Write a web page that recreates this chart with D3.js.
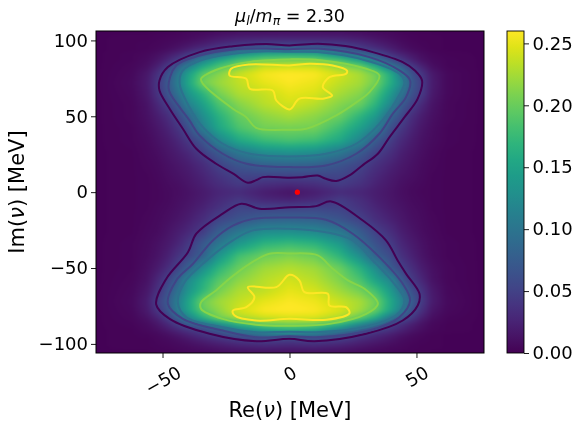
<!DOCTYPE html>
<html>
<head>
<meta charset="utf-8">
<script src="https://cdn.jsdelivr.net/npm/d3@7"></script>
<style>
  body { margin: 0; background: #fff; }
  #wrap { position: relative; width: 576px; height: 422px; overflow: hidden; }
  #wrap canvas, #wrap svg { position: absolute; left: 0; top: 0; }
  text { font-family: "DejaVu Sans", sans-serif; fill: #000; }
</style>
</head>
<body>
<div id="wrap"></div>
<script>
// grid positions of the density, MeV
const reGrid = [-75,-62,-56,-52,-48,-44,-40,-34,-28,-20,-10,0,10,20,28,34,40,44,48,52,56,62,75];
const imGrid = [106,101,97,94,91,87,83,78,72,65,58,50,42,34,26,18,10,5,0,-5,-10,-18,-26,-34,-42,-50,-58,-65,-72,-78,-83,-87,-91,-94,-97,-101,-106];

// density in units of 0.001, one row per imGrid entry
const density = [
  [2,2,2,3,3,4,5,6,7,8,8,8,8,8,7,6,5,4,3,3,2,2,2],
  [2,3,3,4,5,6,8,12,18,24,26,27,27,25,20,14,9,6,4,3,3,2,2],
  [2,3,4,5,7,10,14,22,32,42,52,52,52,48,36,25,15,10,6,4,3,2,2],
  [2,3,4,6,9,14,22,36,50,76,96,96,96,76,50,36,22,13,8,5,3,2,2],
  [2,4,6,10,17,26,42,66,92,131,155,160,155,116,90,66,36,24,15,9,5,3,2],
  [2,4,8,14,26,46,68,116,152,185,202,205,204,185,145,96,64,42,24,12,7,4,2],
  [2,5,10,22,44,76,110,155,185,208,238,240,240,215,200,160,102,76,46,24,10,4,2],
  [2,6,16,36,64,102,145,193,212,238,256,262,258,242,225,205,160,105,66,42,18,6,2],
  [2,7,18,42,71,110,152,205,220,235,250,258,252,235,224,204,160,126,73,48,20,6,2],
  [2,6,16,38,66,96,134,168,205,228,237,250,245,225,212,185,140,102,66,46,18,6,2],
  [2,5,13,28,48,76,113,148,185,212,232,243,232,212,200,168,120,76,52,30,14,5,2],
  [2,5,11,20,32,52,82,128,164,198,215,225,215,200,168,140,83,58,34,20,11,5,2],
  [2,4,9,15,24,38,60,110,152,185,204,205,204,176,145,112,60,42,26,15,9,4,2],
  [2,4,7,12,18,27,42,68,116,155,176,184,178,155,116,73,46,30,20,12,8,4,2],
  [2,3,6,9,14,20,28,47,71,102,126,131,126,102,73,50,34,22,15,10,6,3,2],
  [2,3,5,7,11,15,20,32,50,68,79,82,79,66,52,36,24,17,12,8,5,3,2],
  [2,3,4,6,9,12,16,25,38,50,50,49,50,52,42,28,18,13,10,7,4,3,2],
  [2,3,4,5,8,10,14,22,32,44,34,30,34,46,36,24,16,11,8,6,4,3,2],
  [2,3,4,5,7,9,12,18,26,30,20,13,20,30,26,20,14,10,7,5,4,3,2],
  [2,3,4,5,7,10,13,20,30,42,28,24,30,46,33,22,15,11,8,6,4,3,2],
  [2,3,4,6,8,11,15,24,36,52,50,50,52,50,38,26,17,13,9,7,4,3,2],
  [2,3,5,7,10,14,20,33,52,66,79,82,79,66,50,34,23,16,11,8,5,3,2],
  [2,3,6,8,13,20,28,46,76,102,126,128,121,102,73,50,33,21,14,9,6,3,2],
  [2,4,7,11,17,26,42,71,100,138,168,176,168,140,90,64,45,28,19,12,7,4,2],
  [2,4,8,13,22,38,52,79,134,181,202,210,202,168,126,79,58,36,24,14,8,4,2],
  [2,4,10,18,32,52,79,128,168,200,222,230,222,200,164,126,71,52,34,20,11,5,2],
  [2,5,12,28,52,79,122,160,191,215,232,242,232,210,185,150,120,73,46,28,13,5,2],
  [2,6,16,36,64,96,134,170,205,228,235,250,243,222,205,181,140,102,64,40,18,6,2],
  [2,7,20,48,73,112,150,204,222,236,250,258,253,238,225,204,155,122,76,46,20,7,2],
  [2,6,18,40,66,110,148,196,215,243,258,262,258,245,222,198,150,110,64,36,15,6,2],
  [2,5,12,24,46,79,113,164,202,225,240,244,245,225,193,155,96,68,44,22,10,4,2],
  [2,4,8,15,28,48,71,92,126,168,198,205,200,168,124,90,50,35,22,12,6,3,2],
  [2,3,6,10,17,27,38,52,73,111,145,160,150,111,71,52,36,24,15,9,5,3,2],
  [2,3,4,6,10,16,24,38,50,71,95,102,95,66,44,30,20,13,8,5,3,2,2],
  [2,3,3,5,7,10,15,24,34,46,54,48,54,46,30,22,14,9,6,4,3,2,2],
  [2,3,3,4,5,7,9,13,18,25,30,28,30,24,17,12,8,6,4,3,3,2,2],
  [2,2,2,3,3,4,5,6,7,8,9,8,9,8,6,5,4,4,3,3,2,2,2]
];

// contour outlines, [Re, Im] in MeV
const outerTop = [[0,96.7],[11.2,97.8],[22,96.3],[32.8,92.3],[44.6,85.7],[49.5,80],[52.2,73.6],[50.5,61.6],[45.3,49.4],[39.4,36.3],[34.8,25.3],[29,18],[23.6,11],[18.4,7.3],[14,9],[11.1,11],[5,9.8],[0,9.5],[-10.5,9.9],[-13,8],[-16.4,6.2],[-22,12],[-28.9,18.7],[-36.7,28.6],[-42,41.8],[-47.2,55],[-51.2,67],[-51.2,73.6],[-47.9,82.4],[-35.4,92.3],[-22.3,96.2],[-9.2,97.6]];
const secondTop = [[0,94.2],[11.2,94.6],[31.5,89],[43.3,80.2],[47.5,73.6],[45.9,62.6],[40.7,51.7],[35.4,38.5],[26.3,25.3],[14.4,17.6],[0,16.5],[-17,18.7],[-26.3,25.3],[-35.4,37.4],[-39.4,47.3],[-43.3,56],[-47.6,68.2],[-44.6,83.5],[-35.4,90],[-22.3,94],[-9.2,94.6]];
const thirdTop = [[0,92.5],[11.2,92.3],[30.2,86.8],[43.3,78],[45.3,72.5],[42,60.4],[35.4,45],[26.3,31.9],[14.4,25.3],[0,23.5],[-15.7,25.3],[-26.3,31.9],[-34.1,42.8],[-39.4,56],[-43.3,71.5],[-42,80.2],[-34.1,87.3],[-22.3,91.2],[-9.2,92.9]];
const greenTop = [[0,87.5],[12,87],[30.2,81.3],[35.4,76.9],[31.5,65.9],[27,60],[18.4,50.6],[6.6,41.8],[0,41.2],[-13.1,42.4],[-17,49.4],[-22.3,55],[-34.1,71.5],[-34.8,74.7],[-27.6,81.3],[-15,86]];
const yellowTop = [[0,83.5],[7.9,84.6],[17,83.5],[22.6,80.2],[22.3,78],[15.7,75.8],[13.1,69.2],[16.8,63.7],[13.1,61.6],[3.9,61.6],[1,55.6],[0,54.5],[-5.2,60.4],[-6.6,67],[-15.7,68.2],[-17,74.7],[-23.6,76.9],[-23,81.3],[-15.7,84.2]];
const outerBottom = [[0,-96.6],[9.8,-98.2],[30.2,-93.3],[44.6,-84.6],[50.5,-74.7],[51.2,-67],[46,-54],[42.6,-45],[38,-31.8],[28.9,-18.7],[16.4,-6.1],[10.5,-9.2],[0,-9.9],[-11.8,-10.9],[-19,-7.6],[-26.3,-14.2],[-36.7,-27.4],[-40,-39.6],[-48.5,-57],[-52.5,-74],[-47.2,-83.5],[-31.5,-93.3],[-13.1,-98.2]];
const secondBottom = [[0,-95],[10.5,-95.6],[31.5,-91.2],[43.3,-82.4],[47.5,-71.4],[44.6,-60.4],[35.4,-42.8],[24.9,-27.4],[14.4,-18.2],[0,-16.7],[-14.4,-17.6],[-22.3,-22],[-30.2,-31.8],[-38,-47.2],[-44.6,-58.2],[-47.9,-73.6],[-42,-83.5],[-26.3,-91.2],[-13.1,-95.6]];
const thirdBottom = [[0,-92],[10.5,-92.3],[30.2,-89],[42,-81.3],[45.3,-71.4],[40.7,-59.3],[32.8,-45],[24.9,-31.8],[14.4,-26.4],[0,-24.1],[-14.4,-25.2],[-22.3,-31.8],[-34.1,-47.2],[-41.3,-59.3],[-44,-72.5],[-40.7,-82.4],[-26.3,-89],[-13.1,-92.3]];
const greenBottom = [[0,-88],[15.7,-86.8],[30.2,-80.2],[34.8,-73.6],[29.5,-63.7],[23,-58.2],[17,-50.5],[11.1,-41.7],[0,-40.4],[-7.9,-40.6],[-15.7,-47.2],[-23.6,-57],[-28.9,-64.8],[-34.8,-72.5],[-34.8,-76.9],[-26.3,-83.5],[-12,-87.5]];
const yellowBottom = [[0,-83.5],[14.4,-84.1],[23.6,-79.8],[22.3,-75.8],[15.7,-74.7],[15.1,-67],[5.9,-65.9],[3.9,-58.2],[0,-54.5],[-5.2,-62.6],[-16.4,-62.6],[-13.8,-69.2],[-17,-75.8],[-22.3,-78],[-21.6,-81.3],[-13.1,-84.6]];

const contourSets = [
  { t: 0, lines: [outerTop, outerBottom] },
  { t: 0.2, lines: [secondTop, secondBottom] },
  { t: 0.37, lines: [thirdTop, thirdBottom] },
  { t: 0.82, lines: [greenTop, greenBottom] },
  { t: 1, lines: [yellowTop, yellowBottom] }
];

const pionPoint = [[3.1, 0]];
const reTicks = [-50, 0, 50];
const imTicks = [-100, -50, 0, 50, 100];
const barTicks = [0, 0.05, 0.1, 0.15, 0.2, 0.25];

const W = 576, H = 422;
const plot = { left: 96, right: 484, top: 31, bottom: 353 };
const bar = { left: 507, right: 524 };

const x = d3.scaleLinear().domain([-76.2, 76.6]).range([plot.left, plot.right]);
const y = d3.scaleLinear().domain([106.2, -106]).range([plot.top, plot.bottom]);
const color = d3.scaleSequential(d3.interpolateViridis).domain([0, 0.26]);

// bilinear lookup in the grid
function lookup(re, im) {
  let c = d3.bisectRight(reGrid, re);
  c = Math.max(1, Math.min(reGrid.length - 1, c));
  let r = 1;
  while (r < imGrid.length - 1 && imGrid[r] > im) r++;
  const u = Math.max(0, Math.min(1, (re - reGrid[c - 1]) / (reGrid[c] - reGrid[c - 1])));
  const v = Math.max(0, Math.min(1, (im - imGrid[r - 1]) / (imGrid[r] - imGrid[r - 1])));
  const a = density[r - 1][c - 1] * (1 - u) + density[r - 1][c] * u;
  const b = density[r][c - 1] * (1 - u) + density[r][c] * u;
  return (a * (1 - v) + b * v) / 1000;
}

const wrap = d3.select('#wrap');
const canvas = wrap.append('canvas').attr('width', W).attr('height', H);
const ctx = canvas.node().getContext('2d');

const pw = plot.right - plot.left, ph = plot.bottom - plot.top;
const off = document.createElement('canvas');
off.width = pw; off.height = ph;
const octx = off.getContext('2d');
const img = octx.createImageData(pw, ph);
const lut = d3.range(521).map(i => d3.rgb(color(i / 2000)));
for (let j = 0; j < ph; j++) {
  const im = y.invert(plot.top + j + 0.5);
  for (let i = 0; i < pw; i++) {
    const re = x.invert(plot.left + i + 0.5);
    const val = lookup(re, im);
    const col = lut[Math.max(0, Math.min(520, Math.round(val * 2000)))];
    const k = (j * pw + i) * 4;
    img.data[k] = col.r; img.data[k + 1] = col.g; img.data[k + 2] = col.b; img.data[k + 3] = 255;
  }
}
octx.putImageData(img, 0, 0);
ctx.fillStyle = '#fff';
ctx.fillRect(0, 0, W, H);
ctx.drawImage(off, plot.left, plot.top);
// grid creases go away with a small blur
ctx.save();
ctx.beginPath();
ctx.rect(plot.left, plot.top, pw, ph);
ctx.clip();
ctx.filter = 'blur(2px)';
ctx.drawImage(off, plot.left, plot.top);
ctx.restore();

const svg = wrap.append('svg').attr('width', W).attr('height', H);

svg.append('clipPath').attr('id', 'plotClip').append('rect')
  .attr('x', plot.left).attr('y', plot.top).attr('width', pw).attr('height', ph);

const line = d3.line().x(d => x(d[0])).y(d => y(d[1])).curve(d3.curveCatmullRomClosed.alpha(0.5));
const contourG = svg.append('g').attr('clip-path', 'url(#plotClip)');
contourSets.forEach(set => {
  contourG.selectAll(null).data(set.lines).enter().append('path')
    .attr('d', line)
    .attr('fill', 'none')
    .attr('stroke', d3.interpolateViridis(set.t))
    .attr('stroke-width', 2);
});

contourG.selectAll('circle').data(pionPoint).enter().append('circle')
  .attr('cx', d => x(d[0])).attr('cy', d => y(d[1])).attr('r', 2.6).attr('fill', '#f00');

const fmt = v => String(v).replace('-', '\u2212');

const xAxis = svg.append('g').attr('transform', 'translate(0,' + plot.bottom + ')')
  .call(d3.axisBottom(x).tickValues(reTicks).tickFormat(fmt).tickSize(5).tickSizeOuter(0));
xAxis.selectAll('text')
  .attr('font-size', 18)
  .attr('text-anchor', 'middle')
  .attr('dy', null)
  .attr('y', null)
  .attr('dominant-baseline', 'central')
  .attr('transform', function () {
    // top of the rotated label sits 12px under the axis
    const w = this.getComputedTextLength();
    const boxH = w * 0.5 + 13 * 0.866;
    return 'translate(0,' + (12 + boxH / 2) + ') rotate(-30)';
  });

const yAxis = svg.append('g').attr('transform', 'translate(' + plot.left + ',0)')
  .call(d3.axisLeft(y).tickValues(imTicks).tickFormat(fmt).tickSize(5).tickSizeOuter(0));
yAxis.selectAll('text').attr('font-size', 18).attr('x', -8);

// frame
svg.append('rect').attr('x', plot.left).attr('y', plot.top).attr('width', pw).attr('height', ph)
  .attr('fill', 'none').attr('stroke', '#000').attr('stroke-width', 1);
svg.selectAll('.domain').remove();
svg.selectAll('.tick line').attr('stroke', '#000').attr('stroke-width', 0.9);

// colour bar
const barY = d3.scaleLinear().domain([0, 0.26]).range([plot.bottom, plot.top]);
const defs = svg.append('defs');
const grad = defs.append('linearGradient').attr('id', 'viridisBar')
  .attr('x1', 0).attr('x2', 0).attr('y1', 1).attr('y2', 0);
grad.selectAll('stop').data(d3.range(0, 1.0001, 0.05)).enter().append('stop')
  .attr('offset', d => d).attr('stop-color', d => d3.interpolateViridis(d));
svg.append('rect').attr('x', bar.left).attr('y', plot.top)
  .attr('width', bar.right - bar.left).attr('height', ph)
  .attr('fill', 'url(#viridisBar)').attr('stroke', '#000').attr('stroke-width', 0.9);
const barAxis = svg.append('g').attr('transform', 'translate(' + bar.right + ',0)')
  .call(d3.axisRight(barY).tickValues(barTicks).tickFormat(d3.format('.2f')).tickSize(5).tickSizeOuter(0));
barAxis.select('.domain').remove();
barAxis.selectAll('text').attr('font-size', 18).attr('x', 8.5);
barAxis.selectAll('.tick line').attr('stroke', '#000').attr('stroke-width', 0.9);

// title and axis labels
const title = svg.append('text').attr('x', 290).attr('y', 21.5).attr('text-anchor', 'middle').attr('font-size', 17.5);
title.append('tspan').attr('font-style', 'italic').text('\u03bc');
title.append('tspan').attr('font-style', 'italic').attr('font-size', 12.5).attr('dy', 3).text('l');
title.append('tspan').attr('dy', -3).text('/');
title.append('tspan').attr('font-style', 'italic').text('m');
title.append('tspan').attr('font-style', 'italic').attr('font-size', 12.5).attr('dy', 3).text('\u03c0');
title.append('tspan').attr('dy', -3).text(' = 2.30');

const xLabel = svg.append('text').attr('x', 290).attr('y', 417).attr('text-anchor', 'middle').attr('font-size', 21);
xLabel.append('tspan').text('Re(');
xLabel.append('tspan').attr('font-style', 'italic').text('\u03bd');
xLabel.append('tspan').text(') [MeV]');

const yLabel = svg.append('text').attr('transform', 'translate(24,192) rotate(-90)').attr('text-anchor', 'middle').attr('font-size', 21);
yLabel.append('tspan').text('Im(');
yLabel.append('tspan').attr('font-style', 'italic').text('\u03bd');
yLabel.append('tspan').text(') [MeV]');
</script>
</body>
</html>
